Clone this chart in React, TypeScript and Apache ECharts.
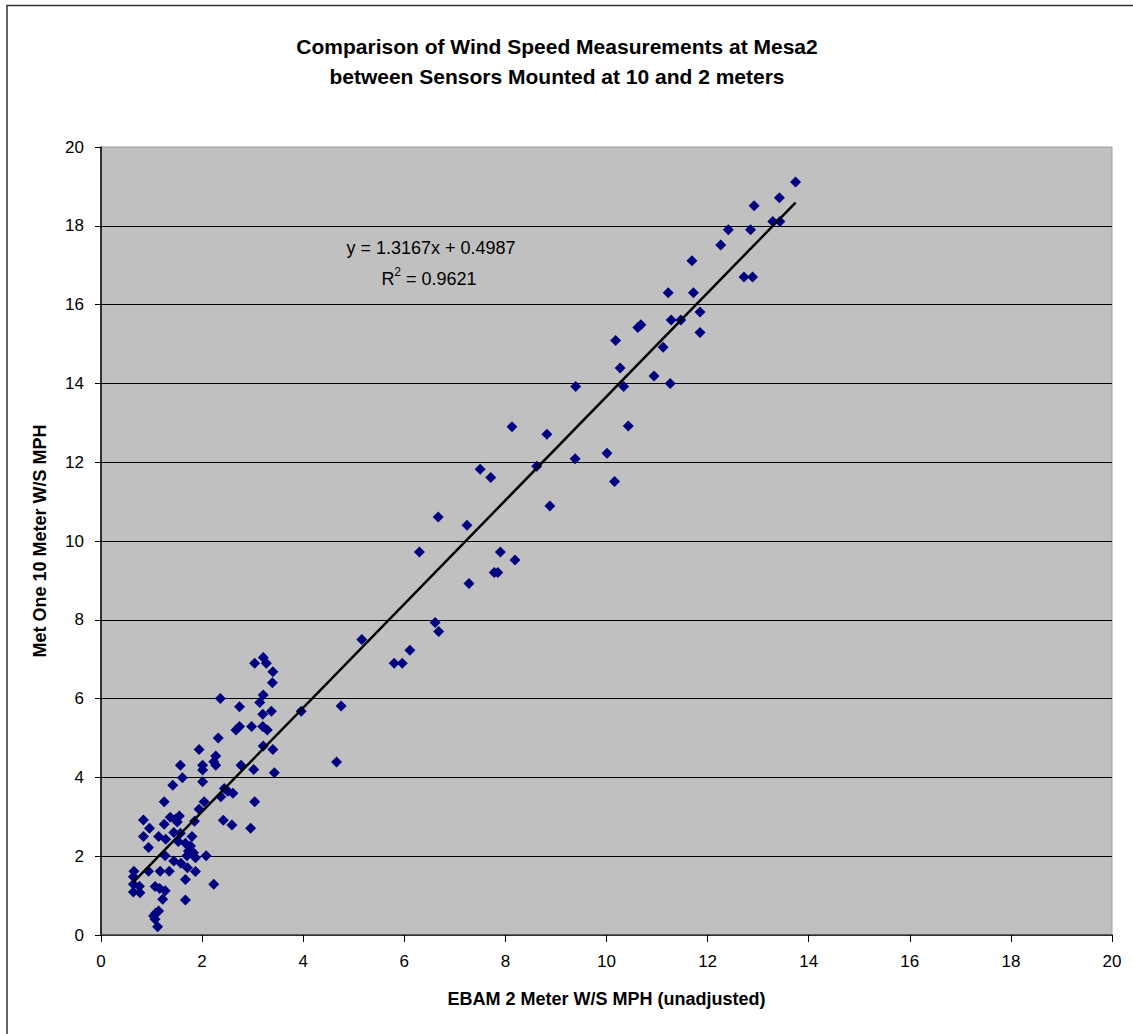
import React, { useEffect, useRef } from "react";
import * as echarts from "echarts";

const titleLines = [
  "Comparison of Wind Speed Measurements at Mesa2",
  "between Sensors Mounted at 10 and 2 meters",
];
const xAxisName = "EBAM 2 Meter W/S MPH (unadjusted)";
const yAxisName = "Met One 10 Meter W/S MPH";
const equationText = "y = 1.3167x + 0.4987";
const r2Value = "0.9621";
const trendSlope = 1.3167;
const trendIntercept = 0.4987;

// EBAM 2 m readings (x) and Met One 10 m readings (y)
const ebamValues = [
  13.74, 13.42, 12.92, 13.29, 13.43, 12.41, 12.85, 12.26, 11.69, 12.72, 12.89, 11.22, 11.72,
  11.85, 11.28, 11.47, 10.62, 10.68, 11.85, 10.18, 11.12, 10.27, 9.39, 10.34, 10.94, 11.26,
  10.43, 8.13, 8.82, 9.38, 10.01, 10.16, 7.5, 7.71, 8.62, 8.88, 6.67, 7.24, 6.3, 7.9, 8.19,
  7.78, 7.85, 7.28, 6.61, 6.68, 5.16, 6.11, 5.8, 5.96, 3.96, 4.75, 4.66,
  3.04, 3.21, 3.27, 3.4, 3.39, 2.36, 3.21, 3.14, 2.74, 3.37, 3.2, 2.67, 2.74, 2.98, 3.2, 3.29,
  2.32, 1.94, 3.21, 3.4, 2.27, 2.23, 2.27, 1.57, 2.01, 2.01, 2.77, 3.02, 3.43, 1.61, 2.01,
  1.42, 2.44, 2.51, 2.61, 2.37, 2.04, 1.25, 3.04, 1.94, 1.37, 1.47, 1.55, 1.51, 0.84, 0.96,
  1.25, 1.85, 2.42, 2.59, 2.96, 0.84, 1.14, 1.28, 1.44, 1.57, 1.8, 0.94, 1.53, 1.67, 1.77,
  1.73, 1.83, 2.08, 1.27, 1.44, 1.58, 1.7, 1.87, 0.65, 0.64, 0.64, 0.76, 0.64, 0.77, 0.94,
  1.17, 1.35, 1.71, 1.87, 1.67, 2.23, 1.07, 1.16, 1.27, 1.22, 1.67, 1.14, 1.08, 1.04, 1.07,
  1.12,
];
const metOneValues = [
  19.11, 18.71, 18.51, 18.11, 18.11, 17.9, 17.9, 17.51, 17.11, 16.7, 16.7, 16.3, 16.3,
  15.81, 15.61, 15.61, 15.42, 15.49, 15.29, 15.09, 14.92, 14.39, 13.92, 13.92, 14.19, 14.0,
  12.92, 12.9, 12.71, 12.09, 12.23, 11.51, 11.82, 11.61, 11.9, 10.89, 10.61, 10.4, 9.72, 9.72,
  9.52, 9.2, 9.2, 8.92, 7.93, 7.7, 7.5, 7.23, 6.9, 6.9, 5.68, 5.81, 4.39,
  6.9, 7.04, 6.9, 6.68, 6.4, 6.0, 6.09, 5.9, 5.79, 5.68, 5.6, 5.2, 5.29, 5.29, 5.29, 5.2,
  5.0, 4.71, 4.8, 4.71, 4.54, 4.4, 4.31, 4.31, 4.31, 4.19, 4.31, 4.2, 4.12, 3.99, 3.89,
  3.8, 3.72, 3.65, 3.6, 3.51, 3.38, 3.38, 3.38, 3.19, 2.99, 2.94, 3.02, 2.87, 2.92, 2.71,
  2.81, 2.89, 2.91, 2.79, 2.71, 2.5, 2.5, 2.43, 2.6, 2.58, 2.5, 2.22, 2.37, 2.33, 2.26,
  2.13, 2.09, 2.01, 2.01, 1.88, 1.82, 2.01, 1.96, 1.62, 1.48, 1.29, 1.24, 1.09, 1.07, 1.62,
  1.62, 1.62, 1.71, 1.61, 1.41, 1.29, 1.23, 1.18, 1.12, 0.91, 0.89, 0.61, 0.55, 0.48, 0.4,
  0.21,
];

const axisTicks = { min: 0, max: 20, interval: 2 };

export default function App() {
  const ref = useRef<HTMLDivElement>(null);

  useEffect(() => {
    if (!ref.current) return;
    const chart = echarts.init(ref.current, undefined, { renderer: "svg" });
    const points = ebamValues.map((x, i) => [x, metOneValues[i]]);
    const xMin = Math.min(...ebamValues);
    const xMax = Math.max(...ebamValues);
    const trend = [
      [xMin, trendSlope * xMin + trendIntercept],
      [xMax, trendSlope * xMax + trendIntercept],
    ];
    const font = "'Liberation Sans', Arial, sans-serif";
    const splitColors = [] as string[];
    for (let v = axisTicks.min; v <= axisTicks.max; v += axisTicks.interval) {
      splitColors.push(v === axisTicks.max ? "#a8a8a8" : "#000000");
    }

    chart.setOption({
      animation: false,
      backgroundColor: "#ffffff",
      textStyle: { fontFamily: font },
      grid: {
        left: 101,
        top: 147,
        width: 1011,
        height: 788,
        show: true,
        backgroundColor: "#c0c0c0",
        borderColor: "#a0a0a0",
        borderWidth: 1,
      },
      xAxis: {
        type: "value",
        min: axisTicks.min,
        max: axisTicks.max,
        interval: axisTicks.interval,
        name: xAxisName,
        nameLocation: "middle",
        nameGap: 55,
        nameTextStyle: { fontSize: 18, fontWeight: "bold", color: "#000", fontFamily: font },
        axisLine: { show: true, lineStyle: { color: "#404040", width: 1.5 } },
        axisTick: { show: true, length: 7, lineStyle: { color: "#000" } },
        axisLabel: { fontSize: 17, color: "#000", margin: 18, fontFamily: font },
        splitLine: { show: false },
      },
      yAxis: {
        type: "value",
        min: axisTicks.min,
        max: axisTicks.max,
        interval: axisTicks.interval,
        name: yAxisName,
        nameLocation: "middle",
        nameGap: 52,
        nameTextStyle: { fontSize: 18, fontWeight: "bold", color: "#000", fontFamily: font },
        axisLine: { show: true, lineStyle: { color: "#000", width: 1.5 } },
        axisTick: { show: true, length: 6, lineStyle: { color: "#000" } },
        axisLabel: { fontSize: 17, color: "#000", margin: 17, fontFamily: font },
        splitLine: { show: true, lineStyle: { color: splitColors, width: 1 } },
      },
      series: [
        {
          type: "scatter",
          data: points,
          symbol: "diamond",
          symbolSize: 11,
          itemStyle: { color: "#000080", opacity: 1 },
          z: 3,
        },
        {
          type: "line",
          data: trend,
          symbol: "none",
          lineStyle: { color: "#000", width: 2.5 },
          z: 4,
        },
      ],
      graphic: [
        {
          type: "rect",
          shape: { x: 7, y: 5.5, width: 1140, height: 1050 },
          style: { fill: "none", stroke: "#333333", lineWidth: 1.5 },
          silent: true,
        },
        {
          type: "text",
          style: {
            text: titleLines[0],
            x: 557,
            y: 46,
            textAlign: "center",
            textVerticalAlign: "middle",
            font: `bold 21px ${font}`,
            fill: "#000",
          },
        },
        {
          type: "text",
          style: {
            text: titleLines[1],
            x: 557,
            y: 76,
            textAlign: "center",
            textVerticalAlign: "middle",
            font: `bold 21px ${font}`,
            fill: "#000",
          },
        },
        {
          type: "text",
          z: 10,
          style: {
            text: equationText,
            x: 431,
            y: 248,
            textAlign: "center",
            textVerticalAlign: "middle",
            font: `18px ${font}`,
            fill: "#000",
          },
        },
        {
          type: "text",
          z: 10,
          style: {
            text: `{a|R}{s|2}{a| = ${r2Value}}`,
            x: 429,
            y: 277,
            textAlign: "center",
            textVerticalAlign: "middle",
            rich: {
              a: { fontSize: 18, fontFamily: font, fill: "#000", color: "#000", verticalAlign: "bottom", lineHeight: 22 },
              s: { fontSize: 12, fontFamily: font, fill: "#000", color: "#000", verticalAlign: "top", lineHeight: 22 },
            },
          },
        },
      ],
    });
    return () => chart.dispose();
  }, []);

  return (
    <div
      ref={ref}
      style={{ position: "absolute", left: 0, top: 0, width: 1133, height: 1034 }}
    />
  );
}
